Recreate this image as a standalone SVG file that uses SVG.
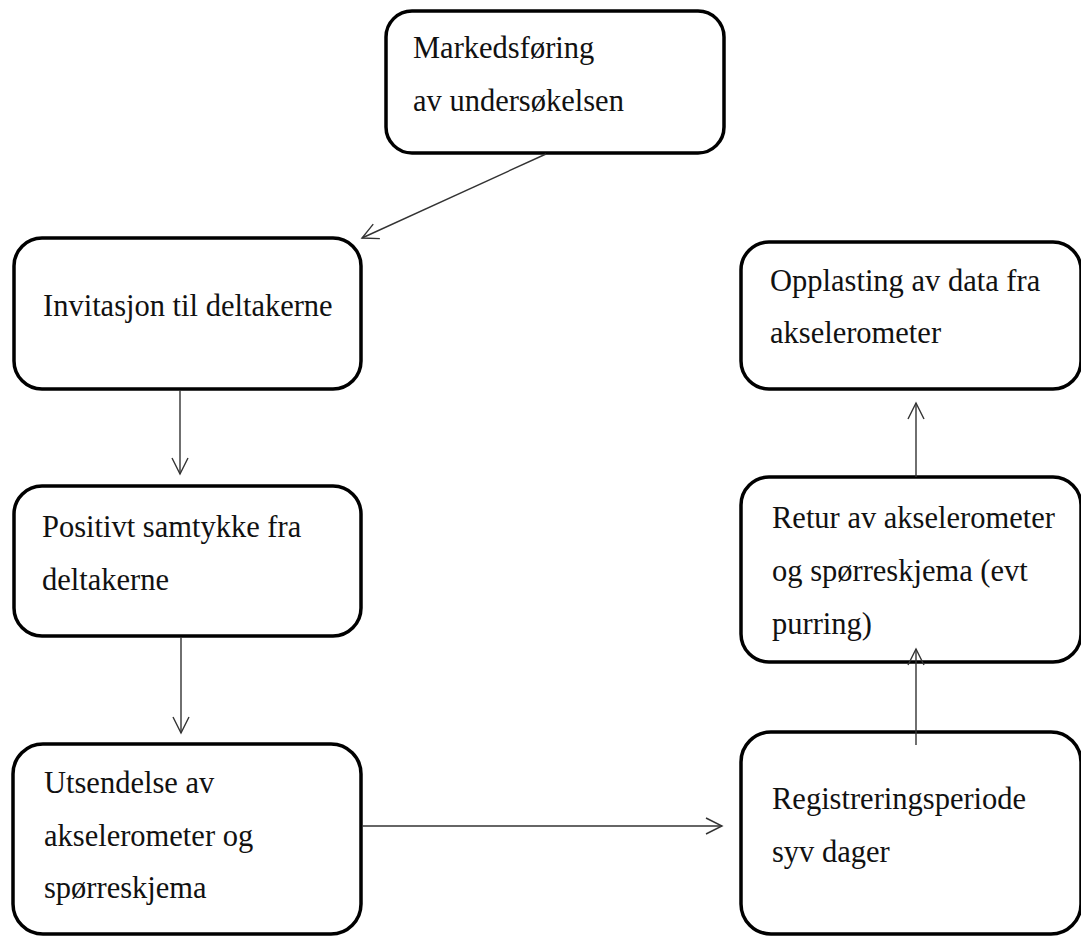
<svg xmlns="http://www.w3.org/2000/svg" width="1081" height="936" viewBox="0 0 1081 936">
<style>
.box{fill:#fff;stroke:#000;stroke-width:3.5}
.t{font-family:"Liberation Serif","Times New Roman",serif;font-size:30.5px;fill:#111}
.c{fill:none;stroke:#333;stroke-width:1.4}
</style>
<defs>
<marker id="ah" viewBox="0 0 20 20" refX="18" refY="10" markerWidth="20" markerHeight="20" markerUnits="userSpaceOnUse" orient="auto">
<path d="M2,2 L18,10 L2,18" fill="none" stroke="#333" stroke-width="1.4"/>
</marker>
</defs>
<rect width="1081" height="936" fill="#fff"/>
<g id="n1"><rect class="box" x="386" y="11" width="338" height="142" rx="26"/>
<text class="t" x="413" y="58">Markedsføring</text><text class="t" x="413" y="111">av undersøkelsen</text></g>
<g id="n2"><rect class="box" x="14" y="238" width="347" height="151" rx="28"/>
<text class="t" x="43" y="316">Invitasjon til deltakerne</text></g>
<g id="n3"><rect class="box" x="14" y="486" width="347" height="150" rx="28"/>
<text class="t" x="42" y="537">Positivt samtykke fra</text><text class="t" x="42" y="590">deltakerne</text></g>
<g id="n4"><rect class="box" x="13" y="744" width="348" height="190" rx="30"/>
<text class="t" x="44" y="793">Utsendelse av</text><text class="t" x="44" y="846">akselerometer og</text><text class="t" x="44" y="898">spørreskjema</text></g>
<g id="n5"><rect class="box" x="741" y="732" width="340" height="202" rx="30"/>
<text class="t" x="772" y="809">Registreringsperiode</text><text class="t" x="772" y="862">syv dager</text></g>
<g id="n6"><rect class="box" x="741" y="477" width="340" height="185" rx="28"/>
<text class="t" x="772" y="528">Retur av akselerometer</text><text class="t" x="772" y="581">og spørreskjema (evt</text><text class="t" x="772" y="634">purring)</text></g>
<g id="n7"><rect class="box" x="741" y="242" width="340" height="147" rx="28"/>
<text class="t" x="770" y="291">Opplasting av data fra</text><text class="t" x="770" y="343">akselerometer</text></g>
<g id="connectors">
<line class="c" x1="546" y1="154" x2="362" y2="238" marker-end="url(#ah)"/>
<line class="c" x1="180" y1="390" x2="180" y2="474" marker-end="url(#ah)"/>
<line class="c" x1="181" y1="637" x2="181" y2="733" marker-end="url(#ah)"/>
<line class="c" x1="362" y1="826" x2="722" y2="826" marker-end="url(#ah)"/>
<line class="c" x1="916" y1="745" x2="916" y2="649" marker-end="url(#ah)"/>
<line class="c" x1="916" y1="477" x2="916" y2="403" marker-end="url(#ah)"/>
</g>
</svg>
